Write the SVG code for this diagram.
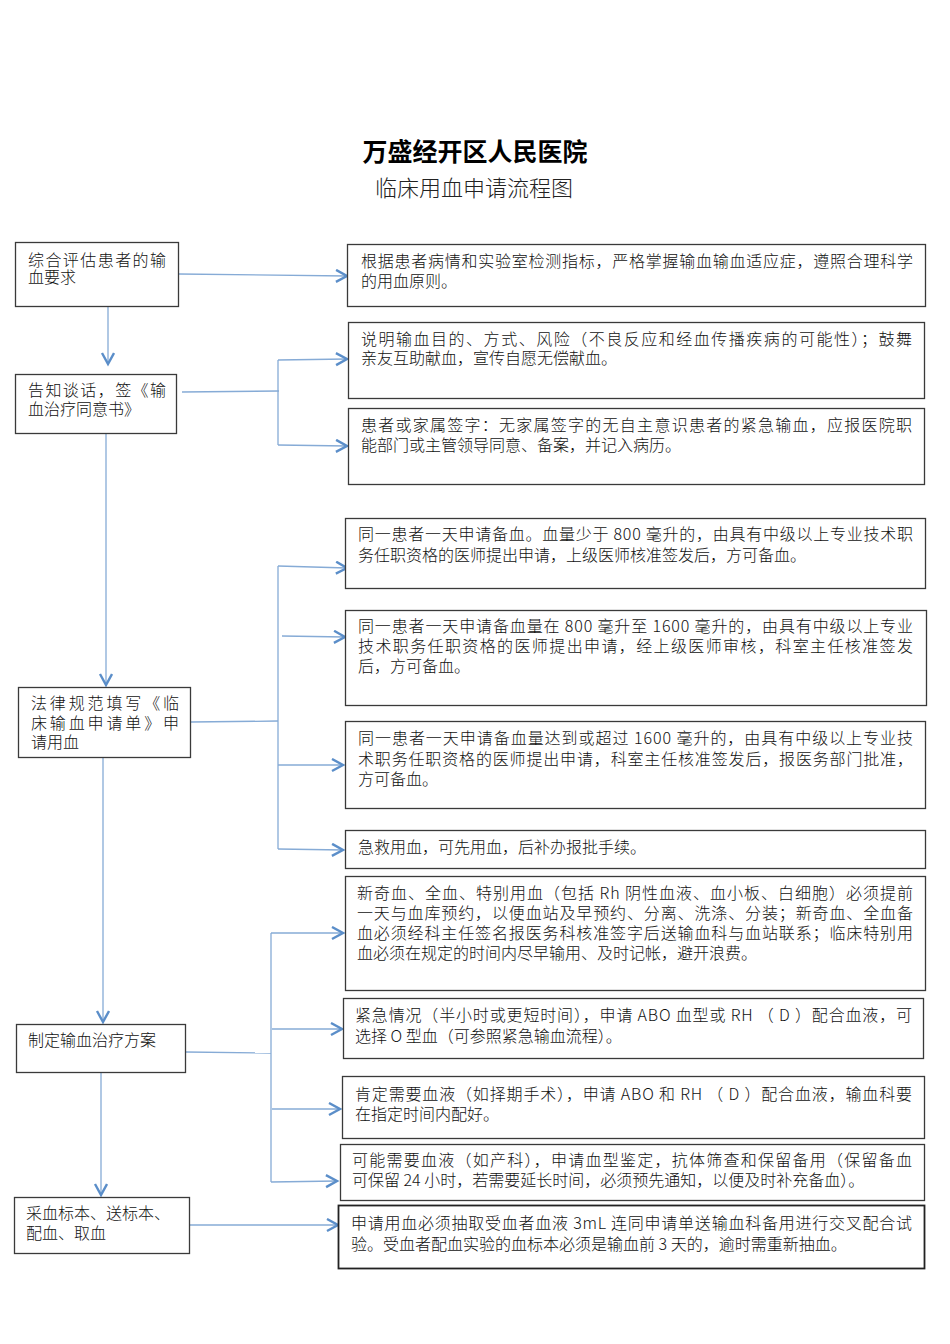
<svg xmlns="http://www.w3.org/2000/svg" width="950" height="1344" viewBox="0 0 950 1344">
<style>
.box{fill:#fff;stroke:#3a3a3a;stroke-width:1.3}
.t{font-family:"Noto Sans CJK SC","Liberation Sans",sans-serif;font-size:16px;fill:#111;font-weight:300}
.title{font-family:"Noto Sans CJK SC",sans-serif;font-size:25px;font-weight:700;fill:#000}
.sub{font-family:"Noto Sans CJK SC",sans-serif;font-size:22px;font-weight:300;fill:#222}
.c{stroke:#86ABD6;stroke-width:1.3;fill:none}
.a{marker-end:url(#ar)}
</style>
<defs>
<marker id="ar" markerUnits="userSpaceOnUse" markerWidth="16" markerHeight="16" refX="12" refY="7" orient="auto">
<path d="M1,1 L12,7 L1,13" fill="none" stroke="#5B8EC9" stroke-width="2.4"/>
</marker>
</defs>
<rect width="950" height="1344" fill="#fff"/>
<text class="title" x="475" y="161" text-anchor="middle">万盛经开区人民医院</text>
<text class="sub" x="474" y="196" text-anchor="middle">临床用血申请流程图</text>

<g id="connectors">
<line class="c a" x1="179" y1="274" x2="347" y2="276"/>
<line class="c a" x1="108" y1="307" x2="108" y2="364"/>
<line class="c" x1="182" y1="392" x2="279" y2="391"/>
<line class="c" x1="278" y1="360" x2="278" y2="445"/>
<line class="c a" x1="278" y1="360" x2="347" y2="359"/>
<line class="c a" x1="278" y1="445" x2="347" y2="446"/>
<line class="c a" x1="106" y1="433" x2="106" y2="685"/>
<line class="c" x1="191" y1="722" x2="278" y2="721"/>
<line class="c" x1="278" y1="566" x2="278" y2="849"/>
<line class="c a" x1="278" y1="566" x2="347" y2="568"/>
<line class="c a" x1="282" y1="636" x2="345" y2="637"/>
<line class="c a" x1="278" y1="765" x2="343" y2="765"/>
<line class="c a" x1="278" y1="849" x2="343" y2="850"/>
<line class="c a" x1="103" y1="758" x2="103" y2="1022"/>
<line class="c" x1="186" y1="1052" x2="271" y2="1053"/>
<line class="c" x1="271" y1="933" x2="271" y2="1182"/>
<line class="c a" x1="271" y1="933" x2="343" y2="933"/>
<line class="c a" x1="272" y1="1029" x2="342" y2="1029"/>
<line class="c a" x1="272" y1="1109" x2="340" y2="1109"/>
<line class="c a" x1="271" y1="1182" x2="337" y2="1181"/>
<line class="c a" x1="101" y1="1072" x2="101" y2="1195"/>
<line class="c a" x1="189" y1="1225" x2="338" y2="1225"/>
</g>

<g id="n1">
<rect class="box" x="15.5" y="242.5" width="163" height="64"/>
<text class="t"><tspan x="28" y="266" textLength="138" lengthAdjust="spacing">综合评估患者的输</tspan><tspan x="28" y="283">血要求</tspan></text>
</g>
<g id="n2">
<rect class="box" x="15.5" y="374.5" width="161" height="59"/>
<text class="t"><tspan x="28" y="396" textLength="138" lengthAdjust="spacing">告知谈话，签《输</tspan><tspan x="28" y="415">血治疗同意书》</tspan></text>
</g>
<g id="n3">
<rect class="box" x="18.5" y="687.5" width="172" height="70"/>
<text class="t"><tspan x="31" y="709" textLength="148" lengthAdjust="spacing">法律规范填写《临</tspan><tspan x="31" y="729" textLength="148" lengthAdjust="spacing">床输血申请单》申</tspan><tspan x="31" y="748">请用血</tspan></text>
</g>
<g id="n4">
<rect class="box" x="16.5" y="1024.5" width="169" height="48"/>
<text class="t" x="28" y="1046">制定输血治疗方案</text>
</g>
<g id="n5">
<rect class="box" x="14.5" y="1197.5" width="175" height="56"/>
<text class="t"><tspan x="26" y="1219" textLength="144" lengthAdjust="spacing">采血标本、送标本、</tspan><tspan x="26" y="1239">配血、取血</tspan></text>
</g>

<g id="r1">
<rect class="box" x="347.5" y="244.5" width="578" height="62"/>
<text class="t"><tspan x="361" y="267" textLength="552" lengthAdjust="spacing">根据患者病情和实验室检测指标，严格掌握输血输血适应症，遵照合理科学</tspan><tspan x="361" y="287">的用血原则。</tspan></text>
</g>
<g id="r2">
<rect class="box" x="348.5" y="322.5" width="576" height="76"/>
<text class="t"><tspan x="361" y="345" textLength="551" lengthAdjust="spacing">说明输血目的、方式、风险（不良反应和经血传播疾病的可能性）；鼓舞</tspan><tspan x="361" y="364">亲友互助献血，宣传自愿无偿献血。</tspan></text>
</g>
<g id="r3">
<rect class="box" x="348.5" y="408.5" width="576" height="76"/>
<text class="t"><tspan x="361" y="431" textLength="551" lengthAdjust="spacing">患者或家属签字：无家属签字的无自主意识患者的紧急输血，应报医院职</tspan><tspan x="361" y="451">能部门或主管领导同意、备案，并记入病历。</tspan></text>
</g>
<g id="r4">
<rect class="box" x="345.5" y="518.5" width="580" height="70"/>
<text class="t"><tspan x="358" y="540" textLength="555" lengthAdjust="spacing">同一患者一天申请备血。血量少于 800 毫升的，由具有中级以上专业技术职</tspan><tspan x="358" y="561">务任职资格的医师提出申请，上级医师核准签发后，方可备血。</tspan></text>
</g>
<g id="r5">
<rect class="box" x="345.5" y="610.5" width="581" height="95"/>
<text class="t"><tspan x="358" y="632" textLength="555" lengthAdjust="spacing">同一患者一天申请备血量在 800 毫升至 1600 毫升的，由具有中级以上专业</tspan><tspan x="358" y="652" textLength="555" lengthAdjust="spacing">技术职务任职资格的医师提出申请，经上级医师审核，科室主任核准签发</tspan><tspan x="358" y="672">后，方可备血。</tspan></text>
</g>
<g id="r6">
<rect class="box" x="345.5" y="721.5" width="580" height="87"/>
<text class="t"><tspan x="358" y="744" textLength="555" lengthAdjust="spacing">同一患者一天申请备血量达到或超过 1600 毫升的，由具有中级以上专业技</tspan><tspan x="358" y="765" textLength="555" lengthAdjust="spacing">术职务任职资格的医师提出申请，科室主任核准签发后，报医务部门批准，</tspan><tspan x="358" y="785">方可备血。</tspan></text>
</g>
<g id="r7">
<rect class="box" x="345.5" y="830.5" width="580" height="38"/>
<text class="t" x="358" y="853">急救用血，可先用血，后补办报批手续。</text>
</g>
<g id="r8">
<rect class="box" x="345.5" y="876.5" width="580" height="114"/>
<text class="t"><tspan x="357" y="899" textLength="556" lengthAdjust="spacing">新奇血、全血、特别用血（包括 Rh 阴性血液、血小板、白细胞）必须提前</tspan><tspan x="357" y="919" textLength="556" lengthAdjust="spacing">一天与血库预约，以便血站及早预约、分离、洗涤、分装；新奇血、全血备</tspan><tspan x="357" y="939" textLength="556" lengthAdjust="spacing">血必须经科主任签名报医务科核准签字后送输血科与血站联系；临床特别用</tspan><tspan x="357" y="959">血必须在规定的时间内尽早输用、及时记帐，避开浪费。</tspan></text>
</g>
<g id="r9">
<rect class="box" x="343.5" y="998.5" width="580" height="60"/>
<text class="t"><tspan x="355" y="1021" textLength="557" lengthAdjust="spacing">紧急情况（半小时或更短时间），申请 ABO 血型或 RH （ D ）配合血液，可</tspan><tspan x="355" y="1042">选择 O 型血（可参照紧急输血流程）。</tspan></text>
</g>
<g id="r10">
<rect class="box" x="342.5" y="1076.5" width="582" height="62"/>
<text class="t"><tspan x="355" y="1100" textLength="557" lengthAdjust="spacing">肯定需要血液（如择期手术），申请 ABO 和 RH （ D ）配合血液，输血科要</tspan><tspan x="355" y="1120">在指定时间内配好。</tspan></text>
</g>
<g id="r11">
<rect class="box" x="340.5" y="1144.5" width="584" height="56"/>
<text class="t"><tspan x="352" y="1166" textLength="560" lengthAdjust="spacing">可能需要血液（如产科），申请血型鉴定，抗体筛查和保留备用（保留备血</tspan><tspan x="352" y="1186">可保留 24 小时，若需要延长时间，必须预先通知，以便及时补充备血）。</tspan></text>
</g>
<g id="r12">
<rect class="box" x="338.5" y="1205.5" width="586" height="63" style="stroke:#222;stroke-width:1.8"/>
<text class="t"><tspan x="351" y="1229" textLength="561" lengthAdjust="spacing">申请用血必须抽取受血者血液 3mL 连同申请单送输血科备用进行交叉配合试</tspan><tspan x="351" y="1250">验。受血者配血实验的血标本必须是输血前 3 天的，逾时需重新抽血。</tspan></text>
</g>
</svg>
